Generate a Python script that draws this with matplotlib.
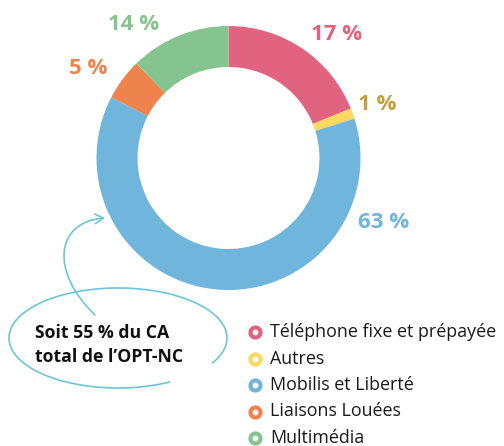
import matplotlib.pyplot as plt
from matplotlib.patches import Arc, FancyArrowPatch
from matplotlib.path import Path

plt.rcParams['font.family'] = ['Open Sans', 'DejaVu Sans']

categories = ['Téléphone fixe et prépayée', 'Autres', 'Mobilis et Liberté',
              'Liaisons Louées', 'Multimédia']
shares = [18.9, 1.3, 62.5, 5.1, 12.3]
pct_labels = ['17 %', '1 %', '63 %', '5 %', '14 %']
colors = ['#e2637f', '#fdd95f', '#70b5db', '#ef834d', '#86c48f']
label_colors = ['#e2637f', '#c4a13f', '#70b5db', '#ef834d', '#86c48f']
callout = "Soit 55 % du CA\ntotal de l\u2019OPT-NC"

W, H = 504, 446
fig = plt.figure(figsize=(W / 100, H / 100), dpi=100)
ax = fig.add_axes([0, 0, 1, 1])

cx, cy, r = 228.5, H - 158, 132
ax.pie(shares, colors=colors, startangle=90, counterclock=False,
       radius=r, center=(cx, cy),
       wedgeprops=dict(width=41, linewidth=0))

# percentage labels, pixel positions measured from the top-left
label_pos = [(337, 35), (377, 105), (384, 222), (88, 69), (134, 25)]
for txt, col, (x, y) in zip(pct_labels, label_colors, label_pos):
    ax.text(x, H - y, txt, color=col, fontsize=16, fontweight='bold',
            ha='center', va='center')

# legend
for i, (name, col) in enumerate(zip(categories, colors)):
    y = H - (332 + 26.5 * i)
    ax.scatter([255], [y], s=52, facecolor='white', edgecolor=col,
               linewidth=3, zorder=3)
    ax.text(270, y, name, fontsize=12.9, color='#1a1a1a', va='center', ha='left')

# callout loop + arrow
line_col = '#6cc5d9'
ax.add_patch(Arc((118, H - 338), 218, 100, theta1=-15, theta2=320,
                 color=line_col, linewidth=1.2))
verts = [(95, H - 315), (50, H - 272), (55, H - 222), (105, H - 218)]
path = Path(verts, [Path.MOVETO, Path.CURVE4, Path.CURVE4, Path.CURVE4])
ax.add_patch(FancyArrowPatch(path=path, arrowstyle='->,head_length=6,head_width=3.5',
                             color=line_col, linewidth=1.2))
ax.text(35, H - 345, callout, fontsize=12.7, fontweight='bold', color='#111111',
        ha='left', va='center', linespacing=1.4)

ax.set_xlim(0, W)
ax.set_ylim(0, H)
ax.set_aspect('equal')
ax.axis('off')

fig.savefig('out.png', dpi=100)
